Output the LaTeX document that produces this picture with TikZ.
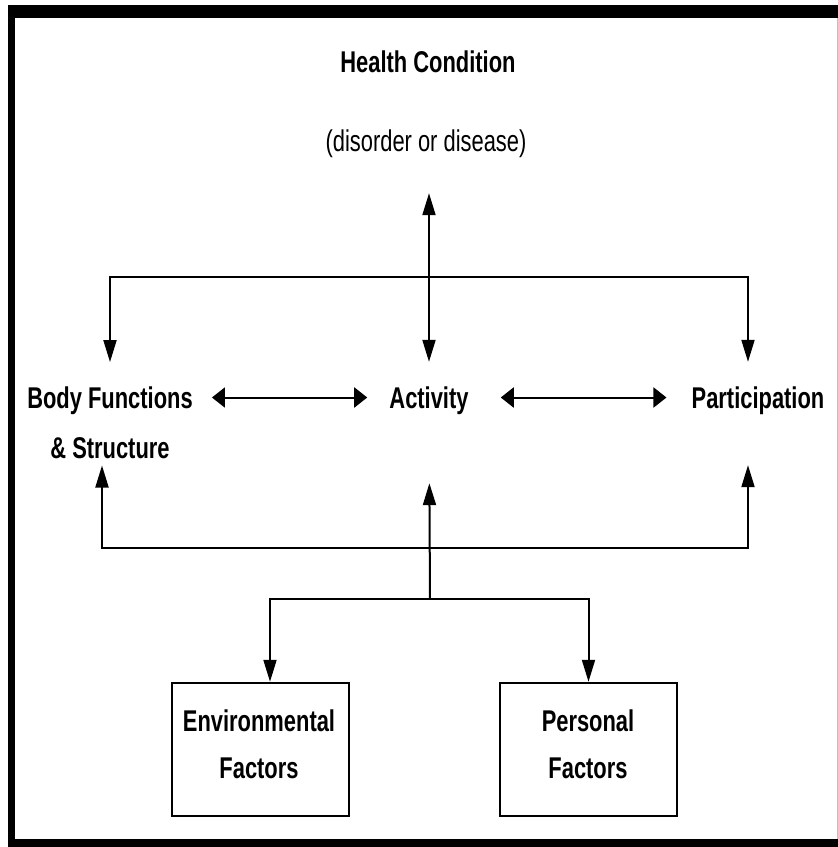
\documentclass[tikz,border=0pt]{standalone}
\usepackage{fontspec}
\setmainfont{Liberation Sans}[FakeStretch=0.73]
\usetikzlibrary{arrows.meta}
\begin{document}
\begin{tikzpicture}[x=1pt,y=-1pt,
  lbl/.style={inner sep=0pt, font=\fontsize{30}{48}\selectfont\bfseries, align=center, text height=22pt, text depth=7pt},
  ml/.style={inner sep=0pt, font=\fontsize{30}{48}\selectfont\bfseries, align=center},
  conn/.style={line width=2pt, draw=black},
  vtip/.tip={Triangle[length=22pt,width=13pt]},
  htip/.tip={Triangle[length=13pt,width=20pt]},
  fbox/.style={draw=black, line width=2.5pt, inner sep=0pt, minimum width=177pt, minimum height=133pt}]
\useasboundingbox (0,0) rectangle (838,847);
% frame
\fill[black] (8,5) rectangle (838,18);
\fill[black] (8,5) rectangle (15,847);
\fill[black] (8,839) rectangle (838,847);
\draw[gray!50, line width=1pt] (837,18) -- (837,839);
% texts
\node[lbl, anchor=base] (hc) at (428,72) {Health Condition};
\node[lbl, anchor=base, font=\fontsize{30}{48}\selectfont] (dis) at (426,151) {(disorder or disease)};
\node[ml, anchor=base] (bf) at (110,458) {Body Functions\\[2pt]\& Structure};
\node[lbl, anchor=base] (act) at (429,408) {Activity};
\node[lbl, anchor=base] (par) at (758,408) {Participation};
\node[fbox] (env) at (260.5,749.5) {};
\node[fbox] (pers) at (588.5,749.5) {};
\node[ml, anchor=base] (envt) at (259,778) {Environmental\\[-1pt]Factors};
\node[ml, anchor=base] (perst) at (588,778) {Personal\\[-1pt]Factors};
% coordinates for junctions
\coordinate (tb) at (430,277);
\coordinate (bj) at (430,548);
\coordinate (cj) at (430,599);
% connectors
\draw[conn, {vtip}-{vtip}, shorten <=35pt, shorten >=24pt] (act.north |- dis.south) -- (act.north);
\draw[conn, -{vtip}, shorten >=24pt] (tb) -| (bf.north);
\draw[conn, -{vtip}, shorten >=24pt] (tb) -| ([xshift=-10pt]par.north);
\draw[conn, {htip}-{htip}, shorten <=19pt, shorten >=22pt] ([yshift=3pt]bf.east |- act.center) -- ([yshift=3pt]act.west);
\draw[conn, {htip}-{htip}, shorten <=32pt, shorten >=25pt] ([yshift=3pt]act.east) -- ([yshift=3pt]par.west);
\draw[conn, -{vtip}, shorten >=68pt] (cj) -- (act.south);
\draw[conn, -{vtip}] (bj) -| ([xshift=-8pt,yshift=-7pt]bf.south);
\draw[conn, -{vtip}, shorten >=50pt] (bj) -| ([xshift=-10pt]par.south);
\draw[conn, -{vtip}] (cj) -| ([xshift=9.5pt]env.north);
\draw[conn, -{vtip}] (cj) -| (pers.north);
\end{tikzpicture}
\end{document}
